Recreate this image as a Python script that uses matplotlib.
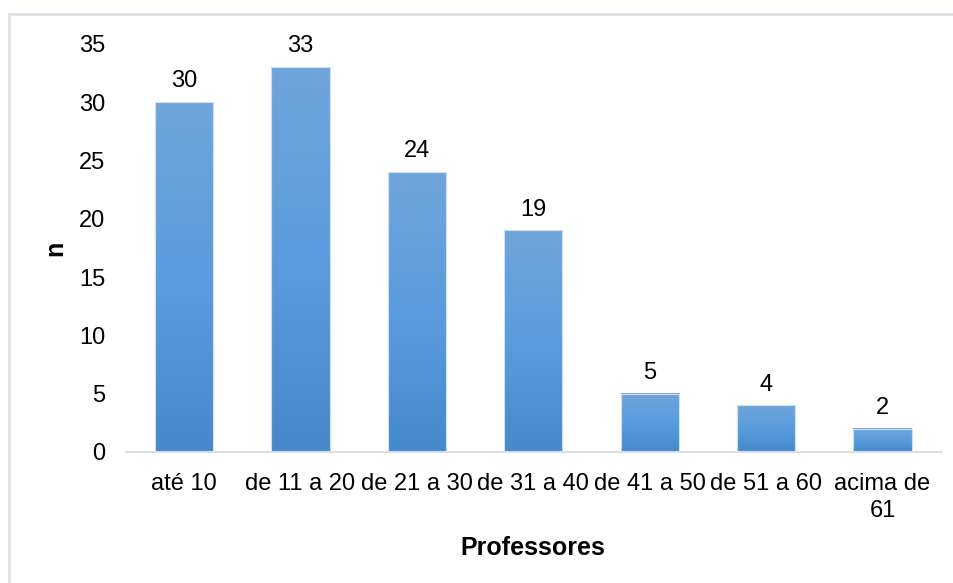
import numpy as np
import matplotlib.pyplot as plt
from matplotlib.colors import LinearSegmentedColormap

# faixas de tempo de docência e número de professores
faixas = ['até 10', 'de 11 a 20', 'de 21 a 30', 'de 31 a 40',
          'de 41 a 50', 'de 51 a 60', 'acima de\n61']
n_prof = [30, 33, 24, 19, 5, 4, 2]
y_ticks = [0, 5, 10, 15, 20, 25, 30, 35]

plt.rcParams['font.family'] = ['Liberation Sans', 'DejaVu Sans']

fig = plt.figure(figsize=(9.54, 5.83), dpi=100)
ax = fig.add_axes([0.132, 0.2247, 0.854, 0.70])

# moldura clara do gráfico (só topo e esquerda aparecem)
fig.add_artist(plt.Line2D([0.0095, 1.0], [0.976, 0.976], color='#dde1e8', lw=2))
fig.add_artist(plt.Line2D([0.0095, 0.0095], [0.0, 0.976], color='#dde1e8', lw=2))

# degradê vertical de cada barra (claro em cima, mais escuro embaixo)
grad = LinearSegmentedColormap.from_list('azul', ['#4689cb', '#5a9cdd', '#70a5db'])
g = np.linspace(0, 1, 256).reshape(-1, 1)

x = np.arange(len(faixas))
larg = 0.5
bars = ax.bar(x, n_prof, width=larg, color='none', edgecolor='#cfe0f3', linewidth=0.8, zorder=3)
for b, v in zip(bars, n_prof):
    x0 = b.get_x()
    ax.imshow(g, cmap=grad, origin='lower', aspect='auto',
              extent=[x0, x0 + larg, 0, v], zorder=2)
    ax.annotate(str(v), (b.get_x() + larg / 2, v), xytext=(0, 7), textcoords='offset points',
                ha='center', va='bottom', fontsize=17, annotation_clip=False)

ax.set_xlim(-0.5, len(faixas) - 0.5)
ax.set_ylim(0, 35)
ax.set_yticks(y_ticks)
ax.set_xticks(x)
ax.set_xticklabels(faixas, fontsize=17, linespacing=1.3)
ax.tick_params(axis='y', labelsize=17, length=0, pad=15)
ax.tick_params(axis='x', length=0, pad=15)

for s in ['top', 'right', 'left']:
    ax.spines[s].set_visible(False)
ax.spines['bottom'].set_color('#d9dee6')
ax.spines['bottom'].set_linewidth(1.5)

ax.set_xlabel('Professores', fontsize=18, fontweight='bold', labelpad=10)
ax.set_ylabel('n', fontsize=18, fontweight='bold', labelpad=8)

plt.savefig('out.png', dpi=100)
